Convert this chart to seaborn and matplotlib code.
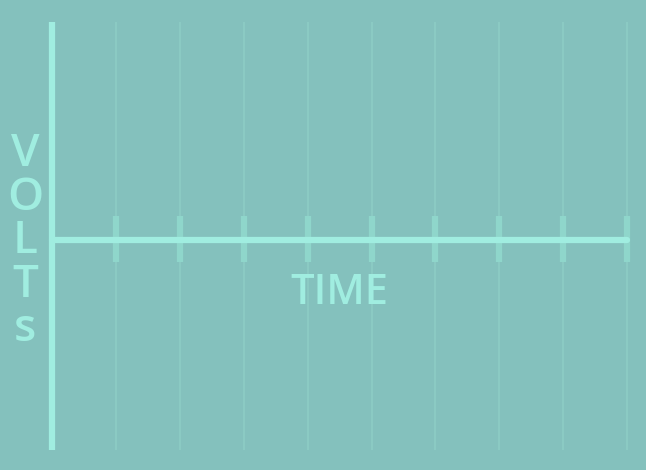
import seaborn as sns
import pandas as pd
import matplotlib.pyplot as plt
import numpy as np

# axis titles / grid positions
y_label = "VOLTs"
x_label = "TIME"
time_ticks = [1, 2, 3, 4, 5, 6, 7, 8, 9]
time_axis = [0, 9]

bg = "#84c1bd"
axis_col = "#a0ede0"
grid_col = "#8ccbc4"
tick_col = "#8fd6cb"

sns.set_style("white", {"axes.facecolor": bg, "figure.facecolor": bg})
plt.rcParams["font.family"] = ["Open Sans", "DejaVu Sans"]

xlim = (-52 / 63.9, (646 - 52) / 63.9)

fig = plt.figure(figsize=(6.46, 4.70), dpi=100)
ax = fig.add_axes([0, 0, 1, 1])

# faint grid lines and tick marks
ax.vlines(time_ticks, -1.05, 1.09, color=grid_col, lw=1.3, zorder=1)
ax.vlines(time_ticks, -0.11, 0.12, color=tick_col, lw=4.5, zorder=2)

# time axis
df = pd.DataFrame({"t": time_axis, "v": [0, 0]})
sns.lineplot(data=df, x="t", y="v", color=axis_col, lw=4.5, ax=ax, zorder=3)

# volts axis
ax.vlines([0], -1.05, 1.09, color=axis_col, lw=4.5, zorder=3)

ax.set_xlim(*xlim)
ax.set_ylim(-1.15, 1.2)
ax.axis("off")

ax.text(-0.42, -0.01, "\n".join(y_label), color=axis_col, fontsize=33,
        ha="center", va="center", linespacing=0.96, fontweight="semibold")
ax.text(4.5, -0.265, x_label, color=axis_col, fontsize=30,
        ha="center", va="center", fontweight="semibold")

plt.savefig("out.png", dpi=100, facecolor=bg)
